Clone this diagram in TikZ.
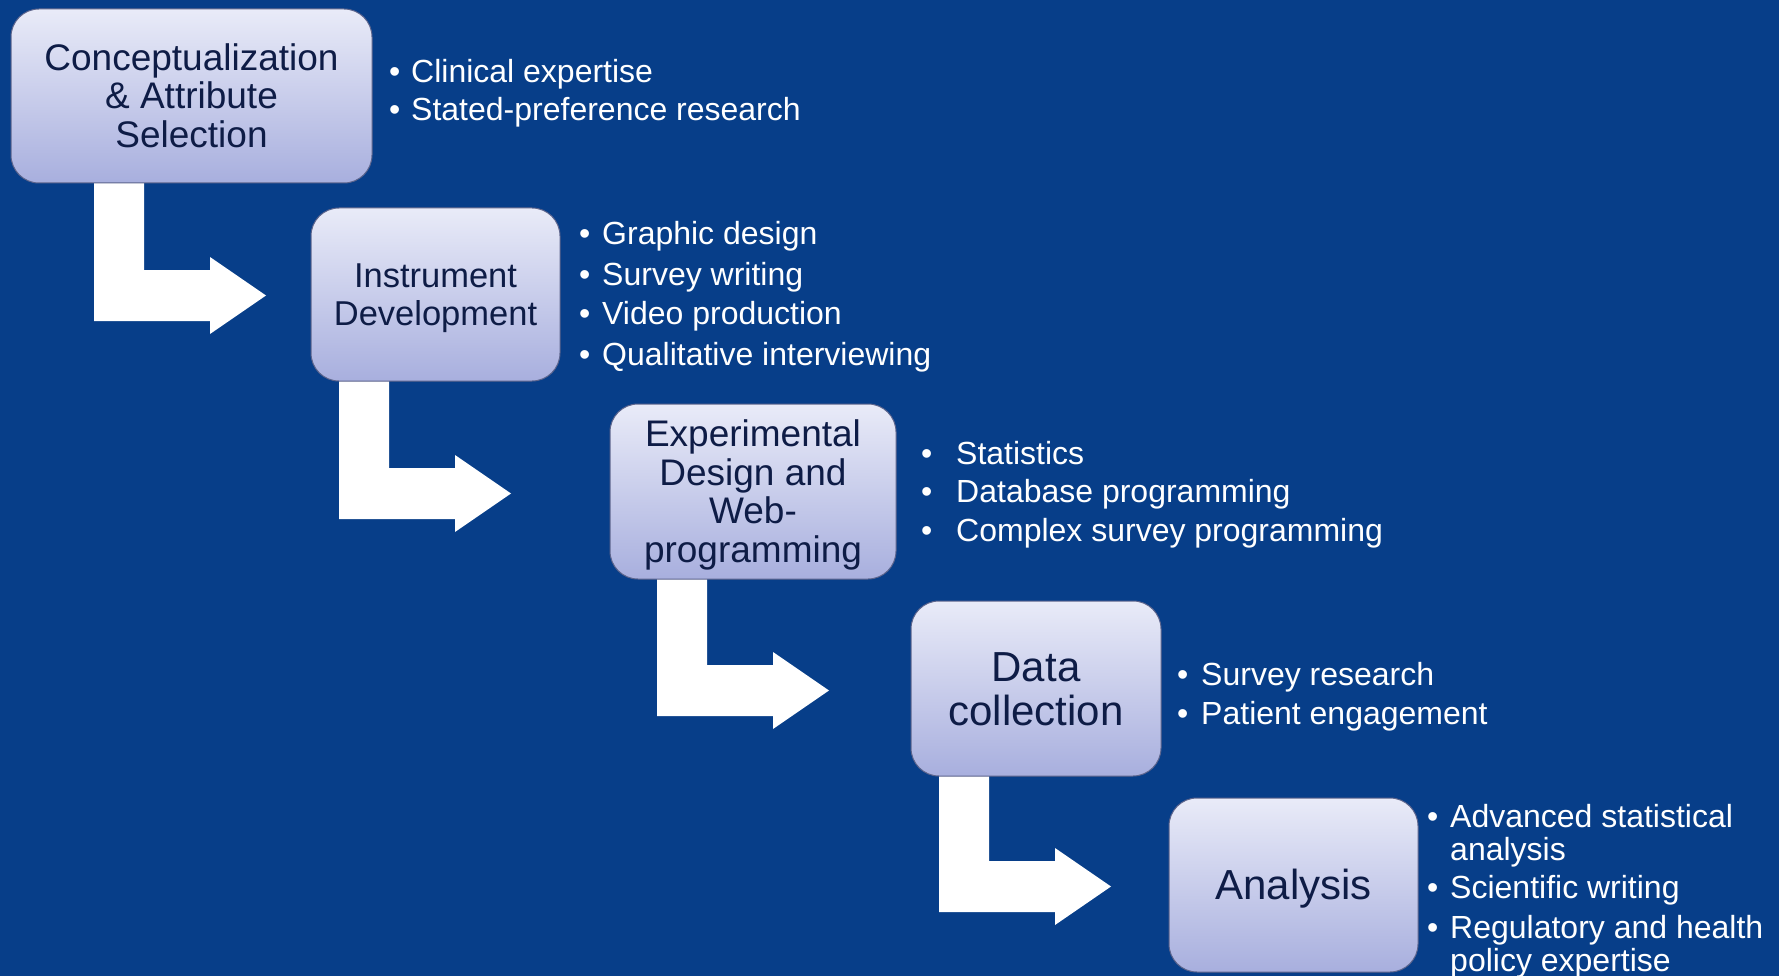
\documentclass[tikz,border=0pt]{standalone}
\usepackage{fontspec}
\setmainfont{Liberation Sans}
\definecolor{bg}{RGB}{7,62,137}
\definecolor{boxtxt}{RGB}{14,28,70}
\definecolor{boxtop}{RGB}{233,235,248}
\definecolor{boxbot}{RGB}{168,175,222}
\definecolor{boxedge}{RGB}{92,100,140}
% line-metric struts (ascent on first line, descent on last line)
\newcommand{\topstrut}{\rule{0pt}{0.905em}}
\newcommand{\botstrut}{\rule[-0.212em]{0pt}{0.212em}}
\begin{document}
\begin{tikzpicture}[x=1pt,y=-1pt,
  stage/.style={draw=boxedge, line width=1pt, rounded corners=28pt,
    top color=boxtop, bottom color=boxbot, text=boxtxt, align=center,
    inner sep=0pt},
  item/.style={anchor=base west, text=white, inner sep=0pt,
    font=\fontsize{32}{38}\selectfont},
  bentarrow/.pic={\fill[white] (0,0) -- (0,-140) -- (50,-140) -- (50,-51)
    -- (116,-51) -- (116,-64) -- (172,-25.5) -- (116,13) -- (116,0) -- cycle;}]
\useasboundingbox (0,0) rectangle (1779,976);
\fill[bg] (0,0) rectangle (1779,976);

% bent arrows (drawn first, boxes cover their tops)
\pic at (94,321) {bentarrow};
\pic at (339,519) {bentarrow};
\pic at (657,716) {bentarrow};
\pic at (939,912) {bentarrow};

% stages
\node[stage, minimum width=361pt, minimum height=174pt,
  font=\fontsize{37}{38.6}\selectfont] (s1) at (191.5,96)
  {\topstrut Conceptualization\\\& Attribute\\Selection\botstrut};
\node[stage, minimum width=249pt, minimum height=173pt,
  font=\fontsize{34.5}{37.4}\selectfont] (s2) at (435.5,294.5)
  {\topstrut Instrument\\Development\botstrut};
\node[stage, minimum width=286pt, minimum height=175pt,
  font=\fontsize{37}{38.6}\selectfont] (s3) at (753,491.5)
  {\topstrut Experimental\\Design and\\Web-\\programming\botstrut};
\node[stage, minimum width=250pt, minimum height=175pt,
  font=\fontsize{42}{44}\selectfont] (s4) at (1036,688.5)
  {\topstrut Data\\collection\botstrut};
\node[stage, minimum width=249pt, minimum height=174pt,
  font=\fontsize{42}{44}\selectfont] (s5) at (1293.5,885)
  {\topstrut Analysis\botstrut};

% list 1
\node[item] (b11) at (389,82.5) {•};
\node[item] (t11) at (411,82.5) {Clinical expertise};
\node[item] (b12) at (389,121) {•};
\node[item] (t12) at (411,121) {Stated-preference research};
% list 2
\node[item] (b21) at (579,245) {•};
\node[item] (t21) at (602,245) {Graphic design};
\node[item] (b22) at (579,285) {•};
\node[item] (t22) at (602,285) {Survey writing};
\node[item] (b23) at (579,324) {•};
\node[item] (t23) at (602,324) {Video production};
\node[item] (b24) at (579,365) {•};
\node[item] (t24) at (602,365) {Qualitative interviewing};
% list 3
\node[item] (b31) at (921,464) {•};
\node[item] (t31) at (956,464) {Statistics};
\node[item] (b32) at (921,502) {•};
\node[item] (t32) at (956,502) {Database programming};
\node[item] (b33) at (921,541) {•};
\node[item] (t33) at (956,541) {Complex survey programming};
% list 4
\node[item] (b41) at (1177,685) {•};
\node[item] (t41) at (1201,685) {Survey research};
\node[item] (b42) at (1177,724) {•};
\node[item] (t42) at (1201,724) {Patient engagement};
% list 5
\node[item] (b51) at (1427,827) {•};
\node[item] (t51) at (1450,827) {Advanced statistical};
\node[item] (t51b) at (1450,860) {analysis};
\node[item] (b52) at (1427,898) {•};
\node[item] (t52) at (1450,898) {Scientific writing};
\node[item] (b53) at (1427,938) {•};
\node[item] (t53) at (1450,938) {Regulatory and health};
\node[item] (t53b) at (1450,971) {policy expertise};
\end{tikzpicture}
\end{document}
